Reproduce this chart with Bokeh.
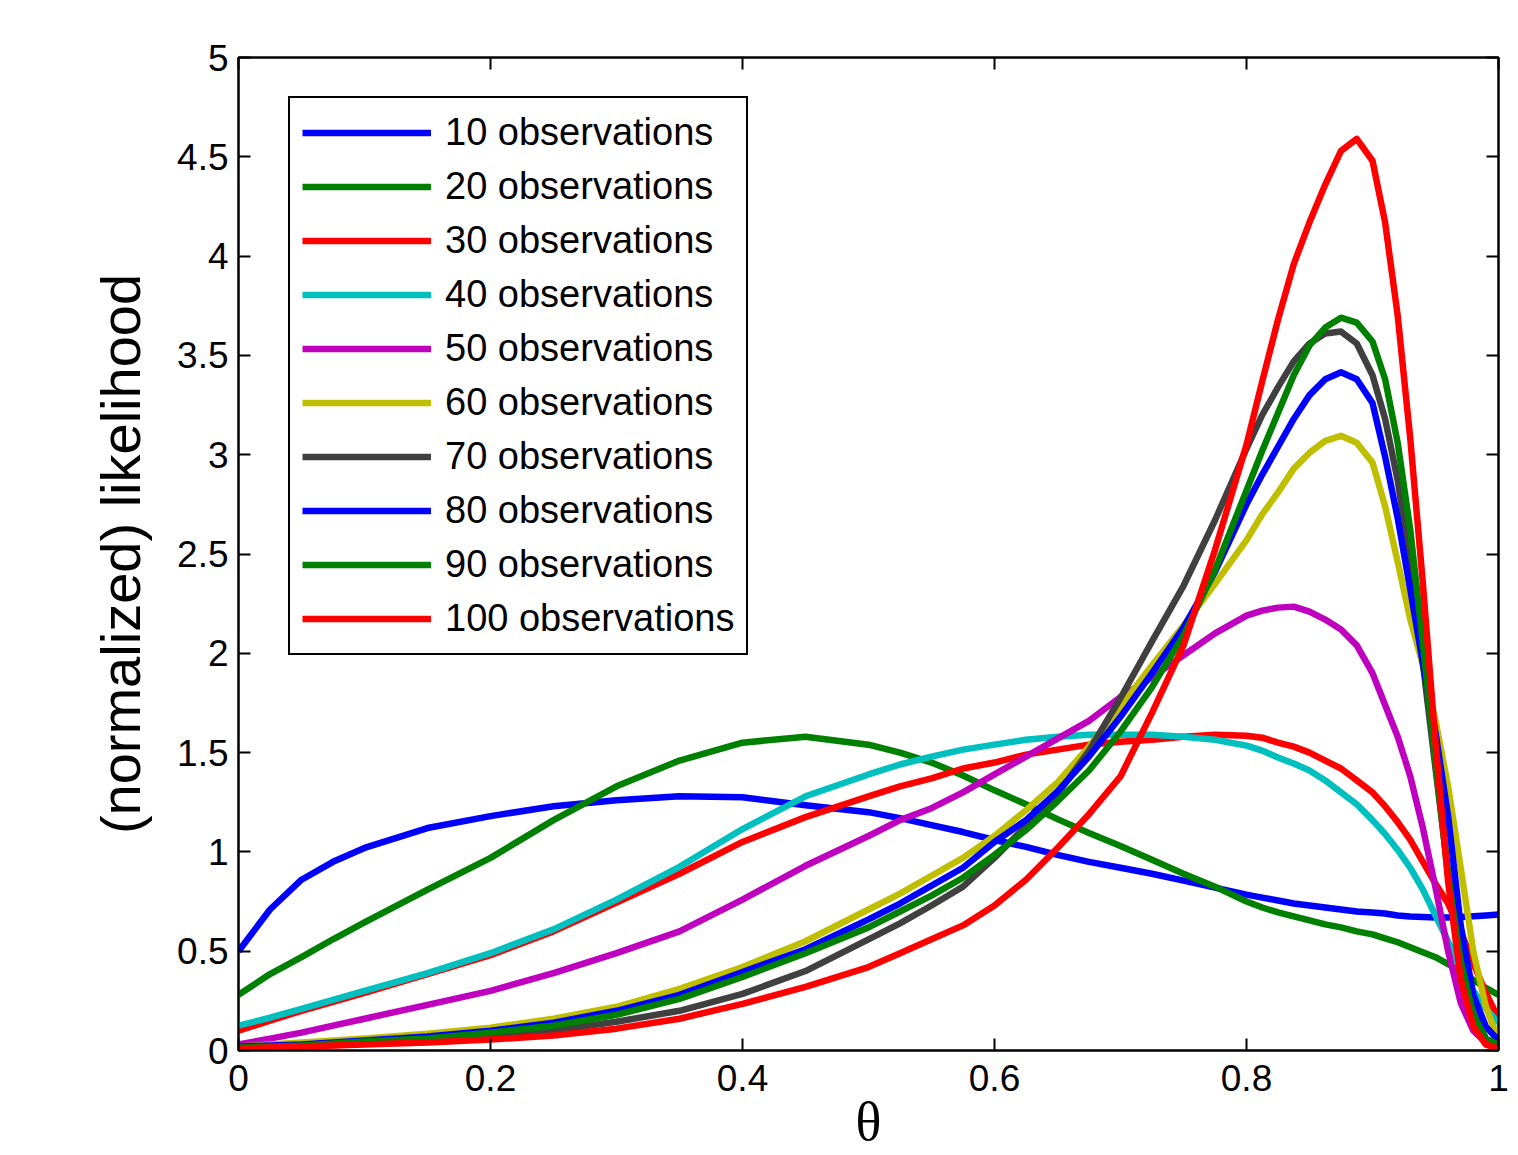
from bokeh.plotting import figure
from bokeh.models import LinearAxis, FixedTicker, Legend, LegendItem, Range1d
from bokeh.embed import file_html
from bokeh.resources import INLINE

# ---------------- data ----------------
THETA = [0.0, 0.025, 0.05, 0.075, 0.1, 0.15, 0.2, 0.25, 0.3, 0.35, 0.4, 0.45, 0.5,
         0.525, 0.55, 0.575, 0.6, 0.625, 0.65, 0.675, 0.7, 0.725, 0.75, 0.775, 0.8,
         0.8125, 0.825, 0.8375, 0.85, 0.8625, 0.875, 0.8875, 0.9,
         0.91, 0.92, 0.93, 0.94, 0.95, 0.96, 0.97, 0.98, 0.99, 1.0]

OBS_10 = [0.50, 0.71, 0.86, 0.95, 1.02, 1.12, 1.18, 1.23, 1.26, 1.28, 1.275, 1.235, 1.20,
          1.17, 1.135, 1.10, 1.06, 1.025, 0.985, 0.95, 0.92, 0.89, 0.855, 0.82, 0.785,
          0.77, 0.755, 0.74, 0.73, 0.72, 0.71, 0.70, 0.695,
          0.69, 0.68, 0.675, 0.672, 0.67, 0.67, 0.672, 0.676, 0.68, 0.685]
OBS_20 = [0.28, 0.385, 0.47, 0.56, 0.645, 0.81, 0.97, 1.16, 1.33, 1.46, 1.55, 1.58, 1.54,
          1.50, 1.45, 1.385, 1.31, 1.24, 1.165, 1.095, 1.03, 0.96, 0.89, 0.825, 0.75,
          0.72, 0.695, 0.675, 0.655, 0.635, 0.62, 0.60, 0.585,
          0.565, 0.545, 0.52, 0.495, 0.47, 0.435, 0.395, 0.355, 0.315, 0.28]
OBS_30 = [0.10, 0.15, 0.20, 0.245, 0.29, 0.385, 0.48, 0.60, 0.745, 0.89, 1.05, 1.175, 1.28,
          1.33, 1.37, 1.42, 1.45, 1.49, 1.515, 1.54, 1.555, 1.565, 1.58, 1.59, 1.585,
          1.575, 1.55, 1.53, 1.50, 1.46, 1.42, 1.36, 1.30,
          1.23, 1.15, 1.06, 0.95, 0.84, 0.74, 0.60, 0.44, 0.29, 0.16]
OBS_40 = [0.125, 0.165, 0.21, 0.255, 0.30, 0.39, 0.49, 0.61, 0.76, 0.925, 1.115, 1.28, 1.39,
          1.44, 1.48, 1.515, 1.54, 1.565, 1.58, 1.59, 1.59, 1.59, 1.58, 1.565, 1.535,
          1.51, 1.475, 1.445, 1.41, 1.36, 1.30, 1.24, 1.16,
          1.09, 1.01, 0.92, 0.81, 0.68, 0.55, 0.41, 0.30, 0.21, 0.14]
OBS_50 = [0.03, 0.06, 0.09, 0.125, 0.16, 0.23, 0.30, 0.39, 0.49, 0.60, 0.76, 0.93, 1.08,
          1.16, 1.22, 1.30, 1.39, 1.48, 1.57, 1.66, 1.78, 1.88, 1.99, 2.10, 2.19,
          2.215, 2.23, 2.235, 2.21, 2.17, 2.12, 2.04, 1.90,
          1.74, 1.58, 1.38, 1.12, 0.82, 0.50, 0.24, 0.10, 0.04, 0.02]
OBS_60 = [0.02, 0.03, 0.04, 0.05, 0.06, 0.085, 0.115, 0.16, 0.22, 0.31, 0.42, 0.55, 0.71,
          0.79, 0.88, 0.97, 1.08, 1.21, 1.35, 1.53, 1.73, 1.94, 2.14, 2.35, 2.57,
          2.70, 2.81, 2.93, 3.01, 3.07, 3.095, 3.06, 2.96,
          2.74, 2.46, 2.17, 1.94, 1.66, 1.33, 0.92, 0.50, 0.22, 0.05]
OBS_70 = [0.01, 0.015, 0.02, 0.027, 0.035, 0.05, 0.075, 0.10, 0.145, 0.20, 0.285, 0.40, 0.56,
          0.64, 0.73, 0.825, 0.97, 1.13, 1.29, 1.51, 1.775, 2.06, 2.34, 2.67, 3.03,
          3.20, 3.34, 3.47, 3.56, 3.61, 3.62, 3.56, 3.40,
          3.18, 2.87, 2.45, 1.95, 1.42, 0.90, 0.47, 0.19, 0.06, 0.02]
OBS_80 = [0.02, 0.025, 0.03, 0.04, 0.05, 0.07, 0.10, 0.14, 0.20, 0.28, 0.395, 0.51, 0.66,
          0.74, 0.83, 0.92, 1.05, 1.16, 1.305, 1.48, 1.68, 1.90, 2.13, 2.41, 2.75,
          2.90, 3.04, 3.18, 3.30, 3.38, 3.415, 3.38, 3.26,
          2.99, 2.68, 2.32, 1.95, 1.60, 1.18, 0.63, 0.28, 0.12, 0.05]
OBS_90 = [0.015, 0.02, 0.025, 0.035, 0.045, 0.06, 0.09, 0.125, 0.18, 0.26, 0.37, 0.49, 0.62,
          0.70, 0.78, 0.87, 0.985, 1.11, 1.255, 1.41, 1.605, 1.83, 2.09, 2.42, 2.82,
          3.02, 3.21, 3.40, 3.55, 3.64, 3.69, 3.665, 3.57,
          3.38, 3.06, 2.62, 2.05, 1.45, 0.88, 0.45, 0.18, 0.06, 0.03]
OBS_100 = [0.01, 0.015, 0.02, 0.025, 0.03, 0.04, 0.055, 0.075, 0.11, 0.16, 0.235, 0.32, 0.42,
           0.49, 0.56, 0.63, 0.73, 0.86, 1.02, 1.19, 1.38, 1.70, 2.04, 2.52, 3.05,
           3.37, 3.68, 3.96, 4.17, 4.36, 4.53, 4.59, 4.48,
           4.17, 3.70, 3.08, 2.35, 1.55, 0.85, 0.36, 0.12, 0.03, 0.01]

SERIES_LABELS = ["10 observations", "20 observations", "30 observations", "40 observations",
                 "50 observations", "60 observations", "70 observations", "80 observations",
                 "90 observations", "100 observations"]
SERIES_VALUES = [OBS_10, OBS_20, OBS_30, OBS_40, OBS_50, OBS_60, OBS_70, OBS_80, OBS_90, OBS_100]
SERIES_COLORS = ["#0000ff", "#008000", "#ff0000", "#00bfbf", "#bf00bf",
                 "#bfbf00", "#404040", "#0000ff", "#008000", "#ff0000"]

X_TICKS = [0, 0.2, 0.4, 0.6, 0.8, 1]
X_TICK_LABELS = ["0", "0.2", "0.4", "0.6", "0.8", "1"]
Y_TICKS = [0, 0.5, 1, 1.5, 2, 2.5, 3, 3.5, 4, 4.5, 5]
Y_TICK_LABELS = ["0", "0.5", "1", "1.5", "2", "2.5", "3", "3.5", "4", "4.5", "5"]

X_LABEL = "θ"
Y_LABEL = "(normalized) likelihood"

# ---------------- figure ----------------
FONT = "Liberation Sans"
TICK_FONT_SIZE = "37px"

p = figure(width=1510, height=1155,
           x_range=Range1d(0, 1), y_range=Range1d(0, 5),
           output_backend="svg", toolbar_location=None,
           min_border_left=238, min_border_right=12,
           min_border_top=57, min_border_bottom=105)
p.background_fill_color = "white"
p.border_fill_color = "white"
p.outline_line_color = "black"
p.outline_line_width = 2
p.xgrid.visible = False
p.ygrid.visible = False


def style_axis(ax, ticks, labels, show_labels=True):
    ax.ticker = FixedTicker(ticks=ticks)
    ax.major_label_overrides = {t: l for t, l in zip(ticks, labels)}
    ax.major_tick_in = 12
    ax.major_tick_out = 0
    ax.minor_tick_in = 0
    ax.minor_tick_out = 0
    ax.major_tick_line_color = "black"
    ax.major_tick_line_width = 2
    ax.axis_line_color = "black"
    ax.axis_line_width = 2
    if show_labels:
        ax.major_label_text_font = FONT
        ax.major_label_text_font_size = TICK_FONT_SIZE
        ax.major_label_text_color = "black"
    else:
        ax.major_label_text_font_size = "1px"
        ax.major_label_text_color = None
        ax.major_label_standoff = 0


xax = p.xaxis[0]
yax = p.yaxis[0]
style_axis(xax, X_TICKS, X_TICK_LABELS)
style_axis(yax, Y_TICKS, Y_TICK_LABELS)
xax.major_label_standoff = 14
yax.major_label_standoff = 10

xax.axis_label = X_LABEL
xax.axis_label_text_font = "Liberation Serif"
xax.axis_label_text_font_size = "54px"
xax.axis_label_text_font_style = "normal"
xax.axis_label_text_color = "black"
xax.axis_label_standoff = -2

yax.axis_label = Y_LABEL
yax.axis_label_text_font = FONT
yax.axis_label_text_font_size = "56px"
yax.axis_label_text_font_style = "normal"
yax.axis_label_text_color = "black"
yax.axis_label_standoff = 22

top_ax = LinearAxis()
style_axis(top_ax, X_TICKS, X_TICK_LABELS, show_labels=False)
p.add_layout(top_ax, "above")
right_ax = LinearAxis()
style_axis(right_ax, Y_TICKS, Y_TICK_LABELS, show_labels=False)
p.add_layout(right_ax, "right")

items = []
for label, vals, color in zip(SERIES_LABELS, SERIES_VALUES, SERIES_COLORS):
    r = p.line(THETA, vals, line_color=color, line_width=6.5, line_join="round")
    items.append(LegendItem(label=label, renderers=[r]))

legend = Legend(items=items, location=(50, 395), margin=0, padding=12, spacing=9,
                glyph_width=129, glyph_height=45, label_height=45, label_standoff=14,
                label_text_font=FONT, label_text_font_size="38px", label_text_color="black",
                border_line_color="black", border_line_width=2, border_line_alpha=1.0,
                background_fill_color="white", background_fill_alpha=1.0)
p.add_layout(legend)

open("out.html", "w").write(file_html(p, INLINE))
